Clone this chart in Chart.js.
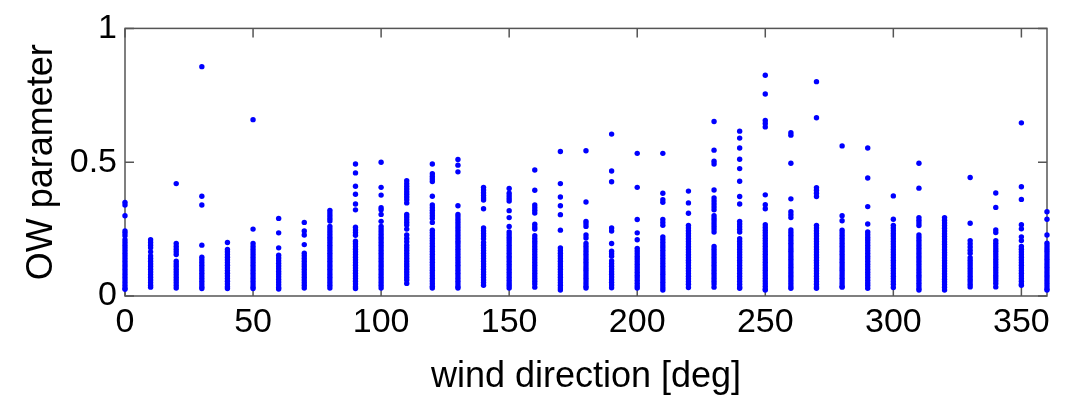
<!DOCTYPE html>
<html>
<head>
<meta charset="utf-8">
<script src="https://cdn.jsdelivr.net/npm/chart.js@4.4.1/dist/chart.umd.min.js"></script>
<style>
  html, body { margin: 0; padding: 0; background: #fff; }
</style>
</head>
<body>
<canvas id="owChart" width="1068" height="399"></canvas>
<script>
// wind direction classes (deg)
const directions = [0, 10, 20, 30, 40, 50, 60, 70, 80, 90, 100, 110, 120, 130, 140, 150, 160, 170, 180,
    190, 200, 210, 220, 230, 240, 250, 260, 270, 280, 290, 300, 310, 320, 330, 340, 350, 360];

// OW parameter values read per direction class
const owValues = [
    [0.35, 0.34, 0.30, 0.243, 0.235, 0.225, 0.21, 0.2, 0.19, 0.18, 0.17, 0.16, 0.15, 0.14, 0.13, 0.12, 0.11, 0.1, 0.09, 0.08, 0.07, 0.06, 0.05, 0.04, 0.03, 0.025],
    [0.21, 0.2, 0.19, 0.18, 0.165, 0.15, 0.14, 0.13, 0.12, 0.11, 0.1, 0.09, 0.08, 0.07, 0.06, 0.05, 0.04, 0.033],
    [0.42, 0.196, 0.185, 0.175, 0.165, 0.155, 0.13, 0.12, 0.11, 0.1, 0.09, 0.08, 0.07, 0.06, 0.05, 0.04, 0.03],
    [0.857, 0.373, 0.34, 0.19, 0.145, 0.135, 0.125, 0.115, 0.105, 0.095, 0.085, 0.075, 0.065, 0.055, 0.045, 0.035, 0.028],
    [0.20, 0.174, 0.165, 0.155, 0.145, 0.135, 0.125, 0.115, 0.105, 0.095, 0.085, 0.075, 0.065, 0.055, 0.045, 0.035, 0.028],
    [0.659, 0.25, 0.196, 0.185, 0.175, 0.165, 0.155, 0.145, 0.135, 0.125, 0.115, 0.105, 0.095, 0.085, 0.075, 0.065, 0.055, 0.045, 0.035, 0.028],
    [0.29, 0.236, 0.18, 0.152, 0.142, 0.132, 0.122, 0.112, 0.102, 0.092, 0.082, 0.072, 0.062, 0.052, 0.042, 0.032, 0.026],
    [0.275, 0.243, 0.228, 0.192, 0.16, 0.15, 0.14, 0.13, 0.12, 0.11, 0.1, 0.09, 0.08, 0.07, 0.06, 0.05, 0.04, 0.03],
    [0.32, 0.31, 0.3, 0.29, 0.28, 0.26, 0.25, 0.24, 0.23, 0.22, 0.21, 0.2, 0.19, 0.18, 0.17, 0.16, 0.15, 0.14, 0.13, 0.12, 0.11, 0.1, 0.09, 0.08, 0.07, 0.06, 0.05, 0.04, 0.03],
    [0.493, 0.46, 0.41, 0.38, 0.344, 0.322, 0.257, 0.247, 0.237, 0.227, 0.205, 0.195, 0.185, 0.175, 0.165, 0.155, 0.145, 0.135, 0.125, 0.115, 0.105, 0.095, 0.085, 0.075, 0.065, 0.055, 0.045, 0.035, 0.028],
    [0.50, 0.406, 0.377, 0.33, 0.322, 0.305, 0.279, 0.26, 0.25, 0.24, 0.23, 0.22, 0.21, 0.2, 0.19, 0.18, 0.17, 0.16, 0.15, 0.14, 0.13, 0.12, 0.11, 0.1, 0.09, 0.08, 0.07, 0.06, 0.05, 0.04, 0.03],
    [0.431, 0.42, 0.41, 0.4, 0.39, 0.38, 0.37, 0.36, 0.348, 0.305, 0.295, 0.285, 0.275, 0.265, 0.25, 0.228, 0.215, 0.203, 0.19, 0.18, 0.17, 0.16, 0.15, 0.14, 0.13, 0.12, 0.11, 0.1, 0.09, 0.08, 0.07, 0.06, 0.047],
    [0.493, 0.457, 0.447, 0.437, 0.428, 0.373, 0.34, 0.33, 0.32, 0.31, 0.30, 0.29, 0.275, 0.246, 0.236, 0.226, 0.216, 0.206, 0.196, 0.186, 0.176, 0.166, 0.156, 0.146, 0.136, 0.126, 0.116, 0.106, 0.096, 0.086, 0.076, 0.066, 0.056, 0.046, 0.036, 0.03],
    [0.51, 0.489, 0.464, 0.337, 0.305, 0.295, 0.285, 0.275, 0.265, 0.255, 0.245, 0.235, 0.225, 0.215, 0.205, 0.195, 0.185, 0.175, 0.165, 0.155, 0.145, 0.135, 0.125, 0.115, 0.105, 0.095, 0.085, 0.075, 0.065, 0.055, 0.045, 0.035, 0.03],
    [0.406, 0.396, 0.386, 0.376, 0.366, 0.359, 0.326, 0.254, 0.244, 0.234, 0.224, 0.214, 0.2, 0.19, 0.18, 0.17, 0.16, 0.15, 0.14, 0.13, 0.12, 0.11, 0.1, 0.09, 0.08, 0.07, 0.06, 0.05, 0.04],
    [0.402, 0.384, 0.374, 0.364, 0.355, 0.319, 0.293, 0.26, 0.239, 0.229, 0.219, 0.209, 0.199, 0.189, 0.179, 0.169, 0.159, 0.149, 0.139, 0.129, 0.119, 0.109, 0.099, 0.089, 0.079, 0.069, 0.059, 0.049, 0.039, 0.03],
    [0.471, 0.395, 0.34, 0.33, 0.32, 0.31, 0.268, 0.258, 0.25, 0.225, 0.215, 0.205, 0.195, 0.185, 0.175, 0.165, 0.155, 0.145, 0.135, 0.125, 0.115, 0.105, 0.095, 0.085, 0.075, 0.065, 0.055, 0.045, 0.033],
    [0.54, 0.42, 0.37, 0.337, 0.304, 0.246, 0.18, 0.17, 0.16, 0.15, 0.14, 0.13, 0.12, 0.11, 0.1, 0.09, 0.08, 0.07, 0.06, 0.05, 0.04, 0.03, 0.022],
    [0.543, 0.351, 0.279, 0.27, 0.26, 0.228, 0.217, 0.196, 0.186, 0.176, 0.166, 0.156, 0.146, 0.136, 0.126, 0.116, 0.106, 0.096, 0.086, 0.076, 0.066, 0.056, 0.046, 0.036, 0.03],
    [0.605, 0.467, 0.427, 0.254, 0.243, 0.196, 0.167, 0.158, 0.149, 0.131, 0.121, 0.111, 0.101, 0.091, 0.081, 0.071, 0.061, 0.051, 0.041, 0.031],
    [0.533, 0.406, 0.286, 0.236, 0.21, 0.178, 0.168, 0.158, 0.148, 0.138, 0.128, 0.118, 0.108, 0.098, 0.088, 0.078, 0.068, 0.058, 0.048, 0.038, 0.03],
    [0.533, 0.384, 0.36, 0.35, 0.286, 0.275, 0.264, 0.221, 0.211, 0.201, 0.191, 0.181, 0.171, 0.161, 0.151, 0.141, 0.131, 0.121, 0.111, 0.101, 0.091, 0.081, 0.071, 0.061, 0.051, 0.041, 0.031, 0.022],
    [0.392, 0.348, 0.309, 0.264, 0.254, 0.244, 0.234, 0.224, 0.214, 0.204, 0.194, 0.184, 0.174, 0.164, 0.154, 0.144, 0.134, 0.124, 0.114, 0.104, 0.094, 0.084, 0.074, 0.064, 0.054, 0.044, 0.032],
    [0.652, 0.545, 0.504, 0.493, 0.396, 0.366, 0.355, 0.344, 0.333, 0.322, 0.30, 0.29, 0.28, 0.27, 0.26, 0.25, 0.239, 0.185, 0.175, 0.165, 0.155, 0.145, 0.135, 0.125, 0.115, 0.105, 0.095, 0.085, 0.075, 0.065, 0.055, 0.045, 0.033],
    [0.616, 0.59, 0.553, 0.511, 0.476, 0.429, 0.372, 0.344, 0.279, 0.269, 0.259, 0.249, 0.239, 0.214, 0.204, 0.194, 0.184, 0.174, 0.164, 0.154, 0.144, 0.134, 0.124, 0.114, 0.104, 0.094, 0.084, 0.074, 0.064, 0.054, 0.044, 0.034, 0.029],
    [0.825, 0.755, 0.656, 0.645, 0.632, 0.378, 0.341, 0.326, 0.266, 0.256, 0.246, 0.236, 0.226, 0.216, 0.206, 0.196, 0.186, 0.176, 0.166, 0.156, 0.146, 0.136, 0.126, 0.116, 0.106, 0.096, 0.086, 0.076, 0.066, 0.056, 0.046, 0.036, 0.026, 0.022],
    [0.61, 0.601, 0.496, 0.363, 0.315, 0.304, 0.293, 0.247, 0.237, 0.227, 0.217, 0.207, 0.197, 0.187, 0.177, 0.167, 0.157, 0.147, 0.137, 0.127, 0.117, 0.107, 0.097, 0.087, 0.077, 0.067, 0.057, 0.047, 0.037, 0.029],
    [0.801, 0.666, 0.405, 0.395, 0.384, 0.372, 0.264, 0.254, 0.244, 0.234, 0.224, 0.214, 0.204, 0.194, 0.184, 0.174, 0.164, 0.154, 0.144, 0.134, 0.124, 0.114, 0.104, 0.094, 0.084, 0.074, 0.064, 0.054, 0.044, 0.034, 0.029],
    [0.561, 0.30, 0.281, 0.246, 0.236, 0.226, 0.216, 0.206, 0.196, 0.186, 0.176, 0.166, 0.156, 0.146, 0.136, 0.126, 0.116, 0.106, 0.096, 0.086, 0.076, 0.066, 0.056, 0.046, 0.036, 0.033],
    [0.553, 0.441, 0.334, 0.269, 0.239, 0.229, 0.219, 0.209, 0.199, 0.189, 0.179, 0.169, 0.159, 0.149, 0.139, 0.129, 0.119, 0.109, 0.099, 0.089, 0.079, 0.069, 0.059, 0.049, 0.039, 0.029],
    [0.374, 0.287, 0.264, 0.254, 0.244, 0.234, 0.224, 0.214, 0.204, 0.194, 0.184, 0.174, 0.164, 0.154, 0.144, 0.134, 0.124, 0.114, 0.104, 0.094, 0.084, 0.074, 0.064, 0.054, 0.044, 0.032],
    [0.496, 0.403, 0.293, 0.283, 0.273, 0.263, 0.228, 0.218, 0.208, 0.198, 0.188, 0.178, 0.168, 0.158, 0.148, 0.138, 0.128, 0.118, 0.108, 0.098, 0.088, 0.078, 0.068, 0.058, 0.048, 0.038, 0.028, 0.022],
    [0.293, 0.283, 0.273, 0.263, 0.253, 0.243, 0.233, 0.223, 0.213, 0.203, 0.193, 0.183, 0.173, 0.163, 0.153, 0.143, 0.133, 0.123, 0.113, 0.103, 0.093, 0.083, 0.073, 0.063, 0.053, 0.043, 0.033, 0.022],
    [0.443, 0.272, 0.207, 0.195, 0.183, 0.171, 0.16, 0.143, 0.133, 0.123, 0.113, 0.103, 0.093, 0.083, 0.073, 0.063, 0.053, 0.043, 0.034],
    [0.385, 0.331, 0.247, 0.237, 0.207, 0.197, 0.187, 0.177, 0.167, 0.157, 0.147, 0.137, 0.127, 0.117, 0.107, 0.097, 0.087, 0.077, 0.067, 0.057, 0.047, 0.034],
    [0.647, 0.408, 0.361, 0.266, 0.251, 0.221, 0.207, 0.185, 0.175, 0.165, 0.155, 0.145, 0.135, 0.125, 0.115, 0.105, 0.095, 0.085, 0.075, 0.065, 0.055, 0.045, 0.04],
    [0.315, 0.287, 0.228, 0.197, 0.187, 0.177, 0.167, 0.157, 0.147, 0.137, 0.127, 0.117, 0.107, 0.097, 0.087, 0.077, 0.067, 0.057, 0.047, 0.037, 0.027, 0.022]
];

const xTicks = [0, 50, 100, 150, 200, 250, 300, 350];
const yTicks = [0, 0.5, 1];

const points = [];
directions.forEach((d, i) => {
    owValues[i].forEach(v => points.push({ x: d, y: v }));
});

// matlab style box with inward ticks
const boxPlugin = {
    id: 'boxAxes',
    beforeDatasetsDraw(chart) {
        const { ctx, chartArea: a, scales } = chart;
        const len = 9;
        ctx.save();
        ctx.strokeStyle = '#555';
        ctx.lineWidth = 1.5;
        ctx.strokeRect(a.left, a.top, a.right - a.left, a.bottom - a.top);
        ctx.beginPath();
        xTicks.forEach(t => {
            const px = scales.x.getPixelForValue(t);
            ctx.moveTo(px, a.bottom); ctx.lineTo(px, a.bottom - len);
            ctx.moveTo(px, a.top); ctx.lineTo(px, a.top + len);
        });
        yTicks.forEach(t => {
            const py = scales.y.getPixelForValue(t);
            ctx.moveTo(a.left, py); ctx.lineTo(a.left + len, py);
            ctx.moveTo(a.right, py); ctx.lineTo(a.right - len, py);
        });
        ctx.stroke();
        ctx.restore();
    }
};

const fontFam = '"Liberation Sans", Arial, sans-serif';

const ctx = document.getElementById('owChart').getContext('2d');
const myChart = new Chart(ctx, {
    type: 'scatter',
    data: {
        datasets: [{
            label: 'OW parameter',
            data: points,
            backgroundColor: '#0000ff',
            borderColor: '#0000ff',
            borderWidth: 0,
            pointRadius: 2.7,
            clip: false
        }]
    },
    options: {
        responsive: false,
        animation: false,
        layout: { padding: { left: 0, right: 21, top: 20, bottom: 0 } },
        plugins: {
            legend: { display: false },
            tooltip: { enabled: false }
        },
        scales: {
            x: {
                type: 'linear',
                min: 0,
                max: 360,
                grid: { display: false, drawTicks: false },
                border: { display: false },
                afterBuildTicks: s => { s.ticks = xTicks.map(v => ({ value: v })); },
                afterFit: s => { s.height = 103; },
                ticks: {
                    color: '#000',
                    padding: 6,
                    maxRotation: 0,
                    autoSkip: false,
                    callback: v => String(v),
                    font: { family: fontFam, size: 34 }
                },
                title: {
                    display: true,
                    text: 'wind direction [deg]',
                    color: '#000',
                    padding: { top: 0, bottom: 0 },
                    font: { family: fontFam, size: 36 }
                }
            },
            y: {
                min: 0,
                max: 1,
                grid: { display: false, drawTicks: false },
                border: { display: false },
                afterBuildTicks: s => { s.ticks = yTicks.map(v => ({ value: v })); },
                afterFit: s => { s.width = 125; },
                ticks: {
                    color: '#000',
                    padding: 8,
                    autoSkip: false,
                    callback: v => String(v),
                    font: { family: fontFam, size: 34 }
                },
                title: {
                    display: true,
                    text: 'OW parameter',
                    color: '#000',
                    padding: { top: 20, bottom: 0 },
                    font: { family: fontFam, size: 36 }
                }
            }
        }
    },
    plugins: [boxPlugin]
});
</script>
</body>
</html>
